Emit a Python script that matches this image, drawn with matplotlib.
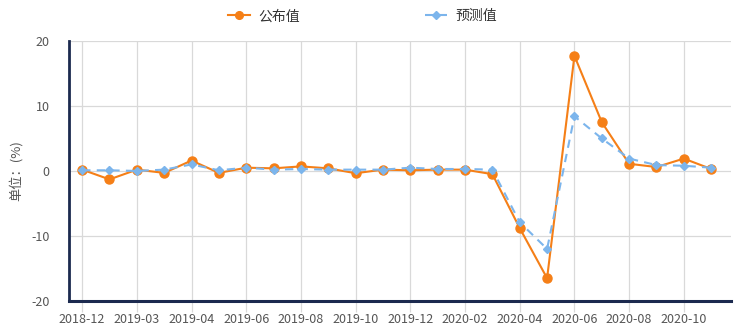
import numpy as np
import matplotlib.pyplot as plt

plt.rcParams['font.family'] = ['Noto Sans CJK SC', 'DejaVu Sans']
plt.rcParams['axes.unicode_minus'] = False

# months (only every other one is labelled on the axis)
months = ["2018-12", "2019-02", "2019-03", "2019-03", "2019-04", "2019-05",
          "2019-06", "2019-07", "2019-08", "2019-09", "2019-10", "2019-11",
          "2019-12", "2020-01", "2020-02", "2020-03", "2020-04", "2020-05",
          "2020-06", "2020-07", "2020-08", "2020-09", "2020-10", "2020-11"]
published = [0.2, -1.3, 0.2, -0.3, 1.6, -0.3, 0.5, 0.4, 0.7, 0.4, -0.35, 0.2,
             0.1, 0.2, 0.2, -0.5, -8.8, -16.5, 17.7, 7.5, 1.1, 0.6, 1.9, 0.3]
forecast = [0.1, 0.1, 0.0, 0.2, 1.0, 0.1, 0.5, 0.2, 0.3, 0.2, 0.2, 0.2,
            0.5, 0.3, 0.3, 0.2, -7.9, -12.0, 8.4, 5.0, 1.9, 0.9, 0.8, 0.5]

orange = "#f57f17"
blue = "#7cb5ec"
navy = "#1c2a4f"
gridc = "#d9d9d9"
textc = "#555555"

fig = plt.figure(figsize=(7.39, 3.30), dpi=100)
ax = fig.add_axes([0.0934, 0.088, 0.8956, 0.788])

x = np.arange(len(months))
ax.plot(x, published, color=orange, lw=1.5, marker="o", ms=6.5, label="公布值", zorder=3)
ax.plot(x, forecast, color=blue, lw=1.5, ls=(0, (4, 3)), marker="D", ms=4.5,
        label="预测值", zorder=4)

ax.set_xlim(-0.48, 23.72)
ax.set_ylim(-20, 20)
ax.set_yticks([-20, -10, 0, 10, 20])
ax.set_xticks(x[::2])
ax.set_xticklabels(months[::2])

ax.grid(True, color=gridc, lw=0.9)
ax.set_axisbelow(True)
for s in ["top", "right"]:
    ax.spines[s].set_visible(False)
ax.spines["left"].set_color(navy)
ax.spines["left"].set_linewidth(2)
ax.spines["bottom"].set_color(navy)
ax.spines["bottom"].set_linewidth(2.2)

ax.tick_params(axis="y", length=0, pad=14, labelsize=9, labelcolor=textc)
ax.tick_params(axis="x", length=8, width=0.9, color=gridc, pad=1,
               labelsize=9, labelcolor=textc)

ax.set_ylabel("单位：(%)", fontsize=9.5, color=textc, labelpad=6)

leg = ax.legend(loc="upper center", bbox_to_anchor=(0.443, 1.17), ncol=2,
                frameon=False, fontsize=10, columnspacing=9, handlelength=1.6,
                handletextpad=0.6, markerscale=0.85)
for t in leg.get_texts():
    t.set_color("#333333")

fig.savefig("out.png", dpi=100)
